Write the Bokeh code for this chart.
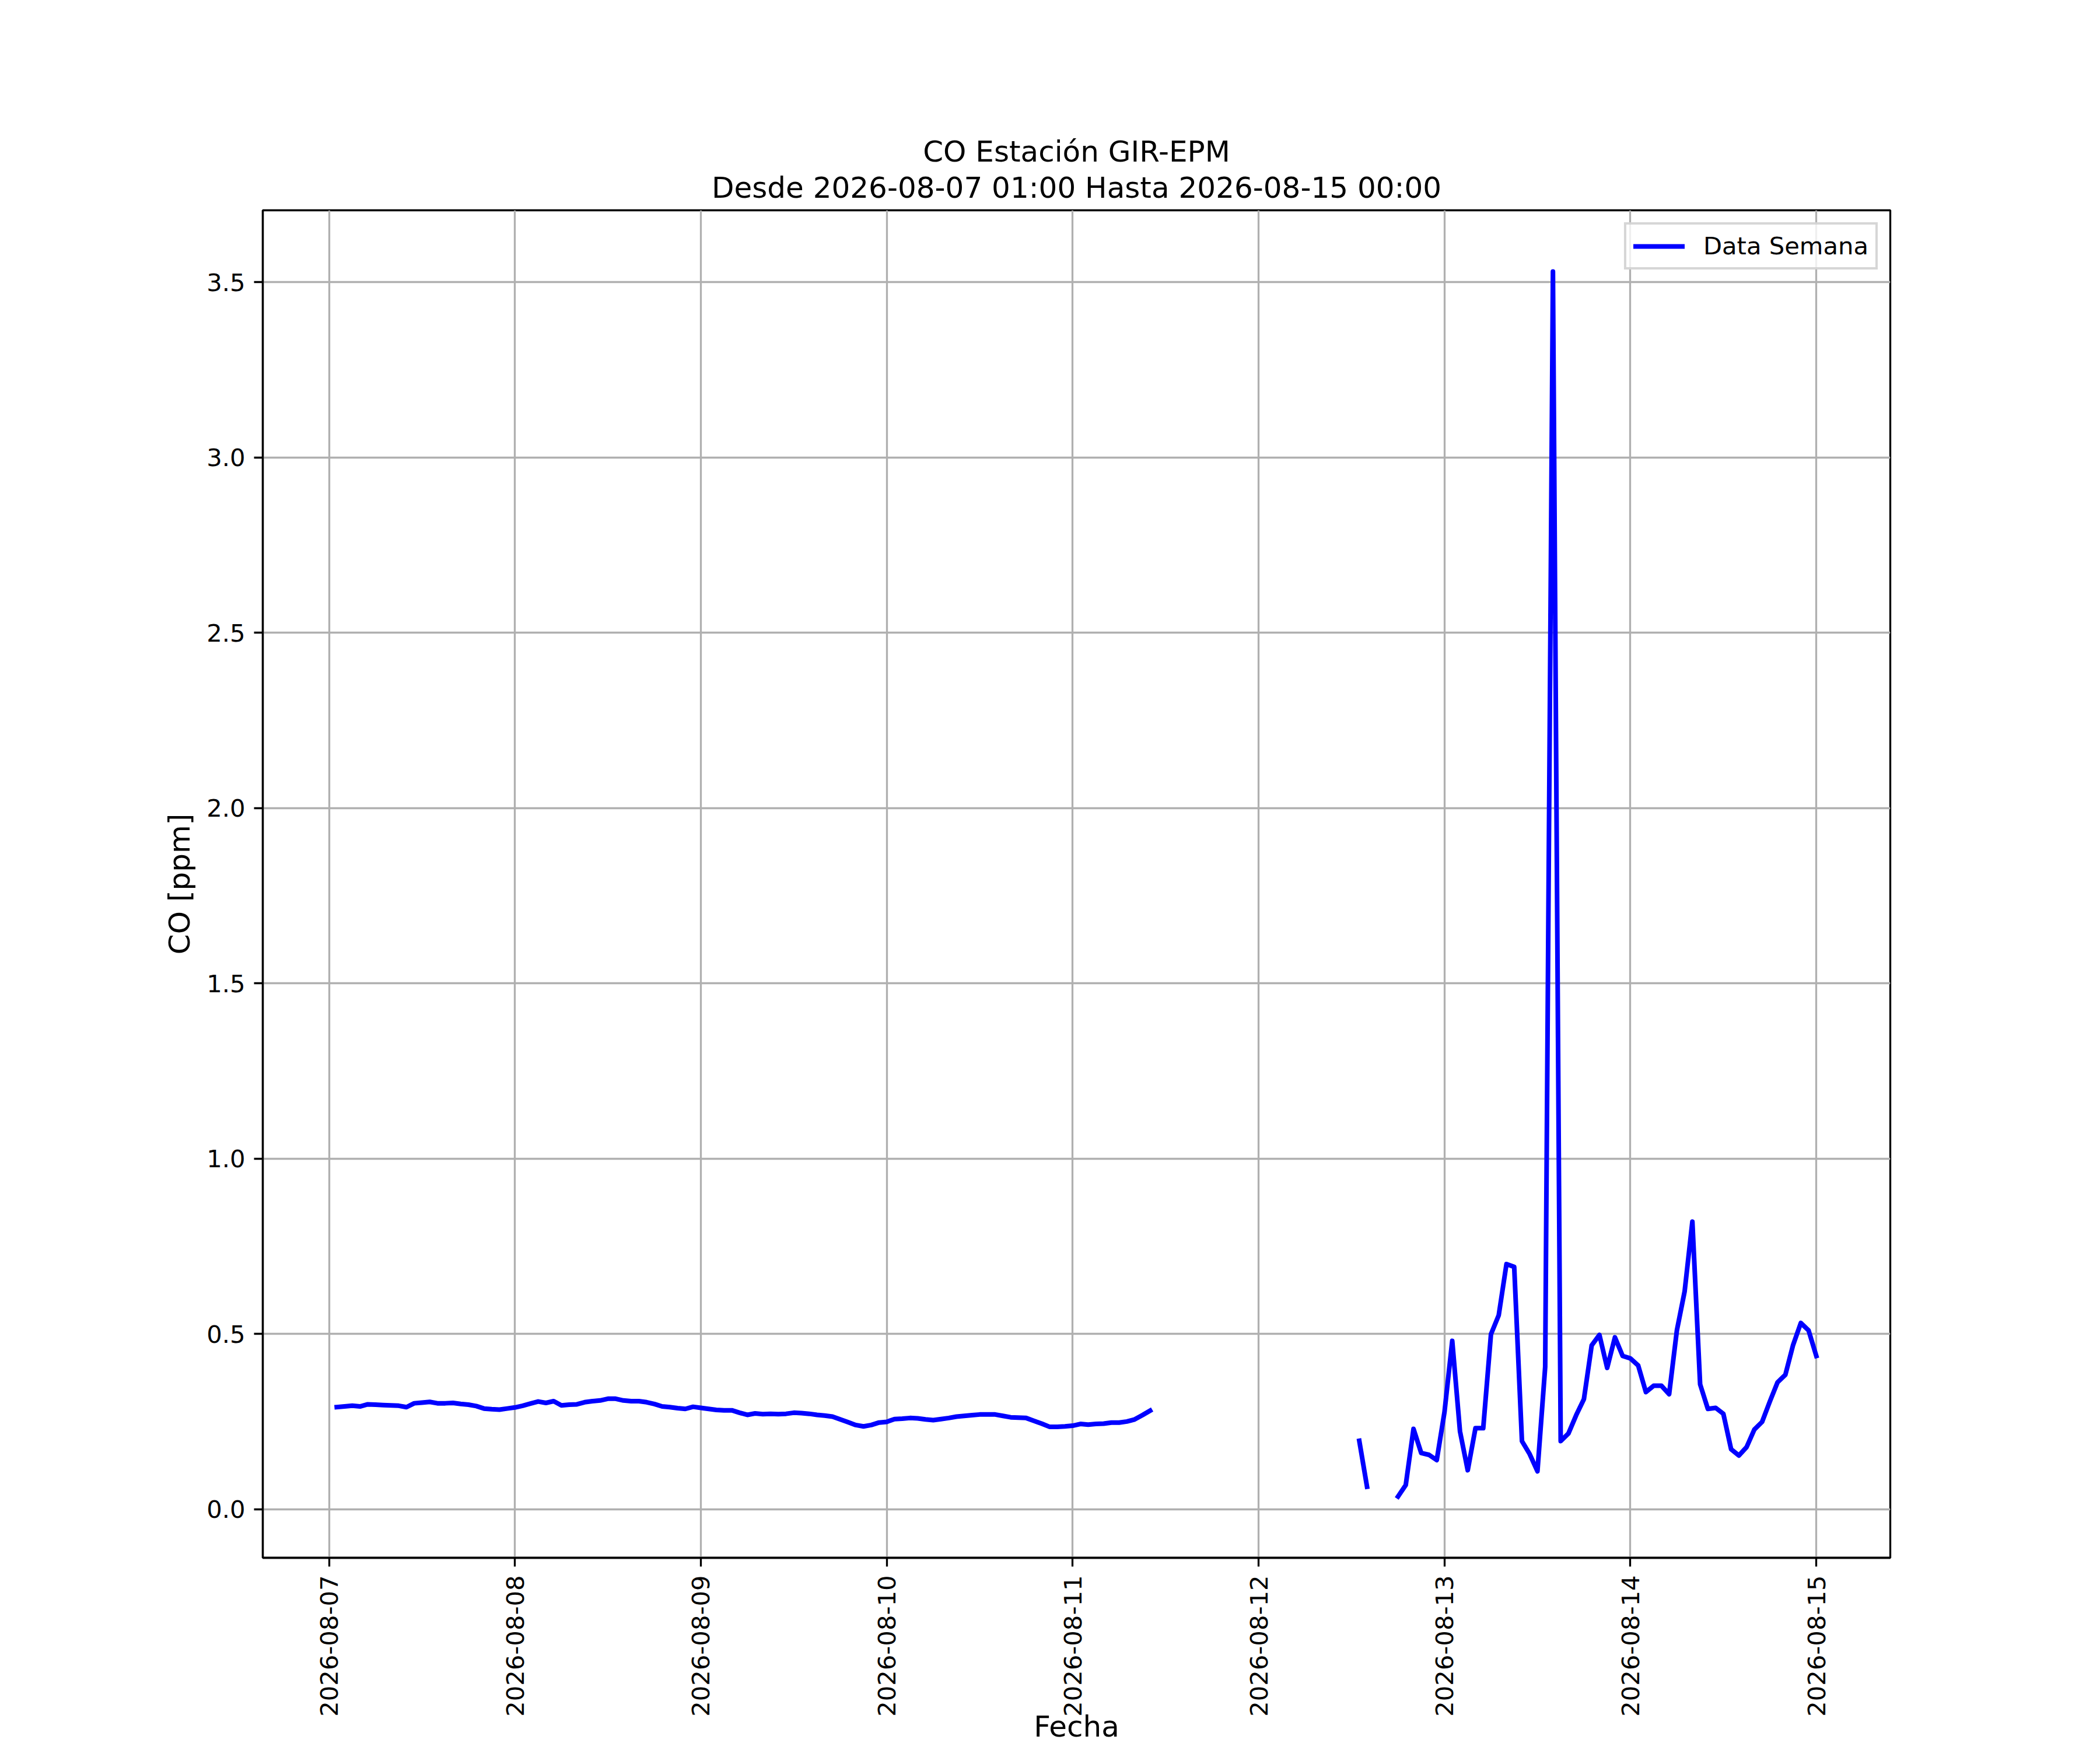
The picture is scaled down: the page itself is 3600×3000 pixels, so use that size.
import math
import numpy as np
import pandas as pd
from bokeh.plotting import figure
from bokeh.models import (Range1d, FixedTicker, DatetimeTickFormatter,
                          PrintfTickFormatter, Title)
from bokeh.embed import file_html
from bokeh.resources import INLINE

# ---------------- data ----------------
title_line1 = "CO Estación GIR-EPM"
title_line2 = "Desde 2026-08-07 01:00 Hasta 2026-08-15 00:00"
x_label = "Fecha"
y_label = "CO [ppm]"
series_name = "Data Semana"

# hourly CO values [ppm]
seg1_start = "2026-08-07 01:00"
seg1_values = [
    # 2026-08-07 01:00 .. 23:00
    0.291, 0.293, 0.295, 0.293, 0.299, 0.298, 0.297, 0.296, 0.295, 0.291,
    0.302, 0.304, 0.306, 0.302, 0.302, 0.303, 0.300, 0.298, 0.294, 0.287,
    0.285, 0.284, 0.287,
    # 2026-08-08
    0.290, 0.295, 0.301, 0.307, 0.303, 0.308, 0.296, 0.298, 0.299, 0.305,
    0.308, 0.310, 0.315, 0.315, 0.310, 0.308, 0.308, 0.305, 0.300, 0.293,
    0.291, 0.288, 0.286, 0.292,
    # 2026-08-09
    0.289, 0.286, 0.283, 0.282, 0.282, 0.275, 0.269, 0.273, 0.271, 0.272,
    0.271, 0.272, 0.275, 0.274, 0.272, 0.269, 0.267, 0.264, 0.256, 0.248,
    0.240, 0.236, 0.240, 0.247,
    # 2026-08-10
    0.249, 0.257, 0.258, 0.260, 0.259, 0.256, 0.254, 0.257, 0.260, 0.264,
    0.266, 0.268, 0.270, 0.270, 0.270, 0.266, 0.262, 0.261, 0.260, 0.252,
    0.244, 0.235, 0.235, 0.236,
    # 2026-08-11 00:00 .. 10:00
    0.238, 0.243, 0.241, 0.243, 0.244, 0.247, 0.247, 0.250, 0.256, 0.268,
    0.281,
]
seg2_start = "2026-08-12 13:00"
seg2_values = [0.195, 0.064]
seg3_start = "2026-08-12 18:00"
seg3_values = [
    # 2026-08-12 18:00 .. 23:00
    0.036, 0.069, 0.229, 0.160, 0.155, 0.140,
    # 2026-08-13
    0.277, 0.480, 0.222, 0.111, 0.231, 0.231, 0.499, 0.553, 0.699, 0.691,
    0.194, 0.157, 0.108, 0.406, 3.530, 0.194, 0.216, 0.268, 0.314, 0.467,
    0.497, 0.403, 0.490, 0.437,
    # 2026-08-14
    0.430, 0.410, 0.334, 0.352, 0.352, 0.328, 0.510, 0.621, 0.820, 0.356,
    0.286, 0.289, 0.272, 0.171, 0.153, 0.177, 0.227, 0.249, 0.307, 0.362,
    0.383, 0.468, 0.531, 0.510,
    # 2026-08-15 00:00
    0.437,
]

x_tick_labels = ["2026-08-07", "2026-08-08", "2026-08-09", "2026-08-10",
                 "2026-08-11", "2026-08-12", "2026-08-13", "2026-08-14",
                 "2026-08-15"]
y_ticks = [0.0, 0.5, 1.0, 1.5, 2.0, 2.5, 3.0, 3.5]

# ---------------- build ----------------
FONT = "DejaVu Sans"


def to_ms(idx):
    return (pd.DatetimeIndex(idx).asi8 / 1e6).tolist()


segments = [(seg1_start, seg1_values), (seg2_start, seg2_values),
            (seg3_start, seg3_values)]
xs, ys = [], []
for start, vals in segments:
    xs.append(to_ms(pd.date_range(start, periods=len(vals), freq="h")))
    ys.append(list(vals))

all_x = [v for s in xs for v in s]
all_y = [v for s in ys for v in s]
t0, t1 = min(all_x), max(all_x)
v0, v1 = min(all_y), max(all_y)
x_start, x_end = t0 - 0.05 * (t1 - t0), t1 + 0.05 * (t1 - t0)
y_start, y_end = v0 - 0.05 * (v1 - v0), v1 + 0.05 * (v1 - v0)

p = figure(width=3592, height=2992, x_axis_type="datetime",
           x_range=Range1d(x_start, x_end), y_range=Range1d(y_start, y_end),
           output_backend="svg", toolbar_location=None,
           min_border_left=450, min_border_right=352,
           min_border_top=360, min_border_bottom=322)
p.background_fill_color = "white"
p.border_fill_color = "white"
p.outline_line_color = "black"
p.outline_line_width = 3.3


def style_title(t, standoff):
    t.align = "center"
    t.vertical_align = "bottom"
    t.text_font = FONT
    t.text_font_size = "50px"
    t.text_font_style = "normal"
    t.text_color = "black"
    t.standoff = standoff


# second title line sits next to the frame; main title line above it
sub = Title(text=title_line2)
style_title(sub, 19)
p.add_layout(sub, "above")
p.title.text = title_line1
style_title(p.title, -14)

p.multi_line(xs=xs, ys=ys, line_color="#0000ff", line_width=8,
             line_join="round", line_cap="square", legend_label=series_name)

tick_ms = to_ms(pd.to_datetime(x_tick_labels))
p.xaxis.ticker = FixedTicker(ticks=tick_ms)
p.xgrid.ticker = FixedTicker(ticks=tick_ms)
fmt = "%Y-%m-%d"
p.xaxis.formatter = DatetimeTickFormatter(
    microseconds=fmt, milliseconds=fmt, seconds=fmt, minsec=fmt, minutes=fmt,
    hourmin=fmt, hours=fmt, days=fmt, months=fmt, years=fmt)
p.xaxis.major_label_orientation = math.pi / 2
p.xaxis.axis_label = x_label
p.xaxis.axis_label_standoff = -15

p.yaxis.ticker = FixedTicker(ticks=y_ticks)
p.ygrid.ticker = FixedTicker(ticks=y_ticks)
p.yaxis.formatter = PrintfTickFormatter(format="%.1f")
p.yaxis.axis_label = y_label
p.yaxis.axis_label_standoff = 14

for ax in (p.xaxis, p.yaxis):
    ax.axis_label_text_font = FONT
    ax.axis_label_text_font_size = "50px"
    ax.axis_label_text_font_style = "normal"
    ax.axis_label_text_color = "black"
    ax.major_label_text_font = FONT
    ax.major_label_text_font_size = "41.7px"
    ax.major_label_text_color = "black"
    ax.major_label_standoff = 15
    ax.major_tick_out = 15
    ax.major_tick_in = 0
    ax.minor_tick_out = 0
    ax.minor_tick_in = 0
    ax.major_tick_line_width = 3.3
    ax.major_tick_line_color = "black"
    ax.axis_line_width = 3.3
    ax.axis_line_color = "black"

p.grid.grid_line_color = "#b0b0b0"
p.grid.grid_line_width = 3.3

# legend
lg = p.legend[0]
lg.location = "top_right"
lg.margin = 21
lg.padding = 12
lg.spacing = 0
lg.glyph_width = 88
lg.glyph_height = 44
lg.label_height = 44
lg.label_standoff = 32
lg.label_text_font = FONT
lg.label_text_font_size = "41.7px"
lg.label_text_color = "black"
lg.border_line_color = "#cccccc"
lg.border_line_width = 4
lg.border_line_alpha = 0.8
lg.background_fill_color = "white"
lg.background_fill_alpha = 0.8

open("out.html", "w").write(file_html(p, INLINE))
